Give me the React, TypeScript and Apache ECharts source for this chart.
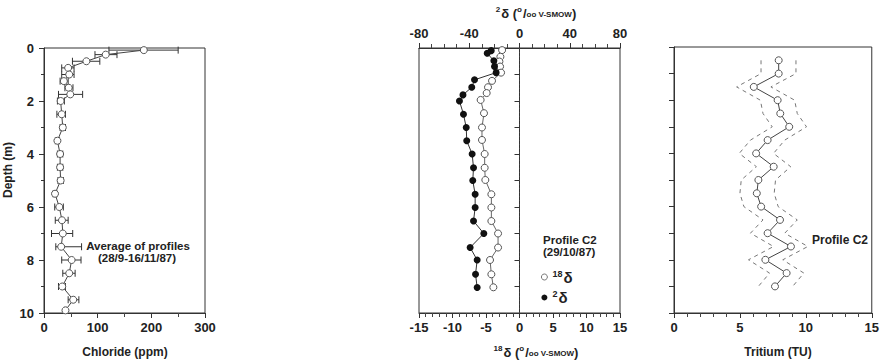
import React, { useEffect, useRef } from 'react';
import * as echarts from 'echarts';

// Left panel: chloride profile (average of profiles)
const clDepth = [0.08, 0.25, 0.5, 0.75, 1.0, 1.25, 1.5, 1.75, 2.0, 2.5, 3.0, 3.5, 4.0, 4.5, 5.0, 5.5, 6.0, 6.5, 7.0, 7.5, 8.0, 8.5, 9.0, 9.5, 9.9];
const clValue = [186, 115, 79, 45, 47, 37, 46, 49, 31, 33, 35, 25, 30, 30, 31, 20.5, 28.5, 33.5, 35, 32, 51.5, 47, 34, 54.5, 40];
const clLow = [121, 95, 53, 33, 33, 30, 39, 27, 25, 24, 30, 21, 25, 25, 26, 17, 20, 21, 14, 22, 33, 35, 27, 45, 38];
const clHigh = [250, 136, 104, 56, 56, 45, 54, 72, 38, 40, 40, 29, 35, 35, 36, 24, 36, 45, 53.5, 70, 69, 58, 40, 65, 42];

// Middle panel: stable isotopes, profile C2
const o18Depth = [0.08, 0.33, 0.51, 0.7, 0.93, 1.24, 1.48, 1.7, 1.96, 2.46, 3.0, 3.47, 4.0, 4.52, 4.98, 5.52, 6.02, 6.53, 7.0, 7.53, 8.0, 8.54, 9.03];
const o18Value = [-2.6, -2.85, -3.0, -2.9, -2.75, -4.1, -4.7, -4.9, -5.8, -5.3, -5.6, -5.6, -5.2, -5.2, -5.1, -4.2, -4.2, -4.2, -3.2, -3.2, -4.4, -4.2, -3.9];
const h2Depth = [0.1, 0.2, 0.48, 0.7, 0.93, 1.2, 1.48, 1.77, 2.0, 2.5, 3.0, 3.5, 4.0, 4.52, 5.0, 5.52, 6.02, 6.53, 7.0, 7.53, 8.0, 8.54, 9.04];
const h2Value = [-22.5, -25.7, -20.4, -19.9, -18.6, -35.8, -38, -45, -47.8, -44.6, -42.4, -42, -37.7, -36.6, -37.2, -35.3, -35.3, -36.6, -28.4, -39.3, -33.7, -35, -33.7];

// Right panel: tritium, profile C2
const trDepth = [0.5, 1.0, 1.5, 2.0, 2.5, 3.0, 3.5, 4.0, 4.5, 5.0, 5.5, 6.0, 6.5, 7.0, 7.5, 8.0, 8.5, 9.0];
const trValue = [7.94, 7.94, 6.05, 7.86, 8.06, 8.74, 7.1, 6.23, 7.56, 6.4, 6.28, 6.61, 8.04, 7.1, 8.87, 6.93, 8.54, 7.66];
const trLow = [6.6, 6.6, 4.75, 6.55, 6.75, 7.45, 5.8, 4.95, 6.25, 5.1, 5.0, 5.3, 6.75, 5.8, 7.55, 5.65, 7.25, 6.4];
const trHigh = [9.25, 9.25, 7.35, 9.15, 9.35, 10.05, 8.4, 7.55, 8.85, 7.7, 7.6, 7.9, 9.35, 8.4, 10.15, 8.25, 9.85, 9.0];

const FONT = 'Liberation Sans';
const INK = '#222';

const labelStyle = { fontFamily: FONT, fontWeight: 'bold' as const, fontSize: 13, color: INK };
const openCircle = { color: '#fff', borderColor: '#555', borderWidth: 1 };

function App() {
  const ref = useRef<HTMLDivElement>(null);

  useEffect(() => {
    const chart = echarts.init(ref.current!, null, { renderer: 'svg' });

    const gridBase = { show: true, borderColor: '#333', borderWidth: 1, backgroundColor: 'transparent', containLabel: false };

    const depthAxis = (gridIndex: number, showLabels: boolean) => ({
      type: 'value',
      gridIndex,
      inverse: true,
      min: 0,
      max: 10,
      interval: showLabels ? 2 : 1,
      axisLine: { show: true, lineStyle: { color: '#333', width: 1 } },
      axisTick: { show: true, length: 5, lineStyle: { color: '#333' } },
      minorTick: { show: showLabels, splitNumber: 2, length: 3, lineStyle: { color: '#333' } },
      axisLabel: { show: showLabels, margin: 10, ...labelStyle },
      splitLine: { show: false },
    });

    const xAx = (gridIndex: number, min: number, max: number, interval: number, minorSplit: number, position: 'top' | 'bottom') => ({
      type: 'value',
      gridIndex,
      position,
      min,
      max,
      interval,
      axisLine: { show: true, onZero: false, lineStyle: { color: '#333', width: 1 } },
      axisTick: { show: true, length: 5, lineStyle: { color: '#333' } },
      minorTick: { show: true, splitNumber: minorSplit, length: 4, lineStyle: { color: '#444' } },
      axisLabel: { show: true, margin: 8, ...labelStyle },
      splitLine: { show: false },
    });

    const errData = clDepth.map((d, i) => [clLow[i], clHigh[i], d]);

    const supRich = {
      sup: { fontFamily: FONT, fontWeight: 'bold', fontSize: 9, color: INK, padding: [0, 1, 7, 0] },
      d: { fontFamily: FONT, fontWeight: 'bold', fontSize: 15, color: INK },
    };

    const option: any = {
      animation: false,
      backgroundColor: '#fff',
      grid: [
        { ...gridBase, left: 44, top: 48, width: 161, height: 265 },
        { ...gridBase, left: 419, top: 48, width: 201, height: 265 },
        { ...gridBase, left: 674, top: 47, width: 199, height: 266 },
      ],
      xAxis: [
        xAx(0, 0, 300, 100, 2, 'bottom'),
        xAx(1, -15, 15, 5, 5, 'bottom'),
        xAx(1, -80, 80, 40, 4, 'top'),
        xAx(2, 0, 15, 5, 5, 'bottom'),
      ],
      yAxis: [depthAxis(0, true), depthAxis(1, false), depthAxis(2, false)],
      legend: {
        orient: 'vertical',
        left: 541,
        top: 269,
        itemWidth: 6,
        itemHeight: 6,
        itemGap: 5,
        padding: 0,
        icon: 'circle',
        data: [
          { name: '18δ', itemStyle: { color: '#fff', borderColor: '#555', borderWidth: 0.8 } },
          { name: '2δ' },
        ],
        formatter: (name: string) => (name === '18δ' ? '{sup|18}{d|δ}' : '{sup|2}{d|δ}'),
        textStyle: { color: INK, rich: supRich },
      },
      series: [
        {
          name: 'Chloride error',
          type: 'custom',
          xAxisIndex: 0,
          yAxisIndex: 0,
          encode: { x: [0, 1], y: 2 },
          data: errData,
          z: 2,
          renderItem: (params: any, api: any) => {
            const lo = api.coord([api.value(0), api.value(2)]);
            const hi = api.coord([api.value(1), api.value(2)]);
            const h = 3.5;
            const st = { stroke: '#333', lineWidth: 1 };
            return {
              type: 'group',
              children: [
                { type: 'line', shape: { x1: lo[0], y1: lo[1], x2: hi[0], y2: hi[1] }, style: st },
                { type: 'line', shape: { x1: lo[0], y1: lo[1] - h, x2: lo[0], y2: lo[1] + h }, style: st },
                { type: 'line', shape: { x1: hi[0], y1: hi[1] - h, x2: hi[0], y2: hi[1] + h }, style: st },
              ],
            };
          },
        },
        {
          name: 'Chloride',
          type: 'line',
          xAxisIndex: 0,
          yAxisIndex: 0,
          data: clDepth.map((d, i) => [clValue[i], d]),
          symbol: 'circle',
          symbolSize: 7,
          itemStyle: openCircle,
          lineStyle: { color: '#444', width: 1 },
          z: 3,
        },
        {
          name: '18δ',
          type: 'line',
          xAxisIndex: 1,
          yAxisIndex: 1,
          data: o18Depth.map((d, i) => [o18Value[i], d]),
          symbol: 'circle',
          symbolSize: 7,
          itemStyle: openCircle,
          lineStyle: { color: '#666', width: 1 },
          markLine: {
            silent: true,
            symbol: 'none',
            label: { show: false },
            lineStyle: { type: [1, 3], color: '#444', width: 1 },
            data: [{ xAxis: 0 }],
          },
          z: 3,
        },
        {
          name: '2δ',
          type: 'line',
          xAxisIndex: 2,
          yAxisIndex: 1,
          data: h2Depth.map((d, i) => [h2Value[i], d]),
          symbol: 'circle',
          symbolSize: 7,
          itemStyle: { color: '#111' },
          lineStyle: { color: '#333', width: 1 },
          z: 3,
        },
        {
          name: 'Tritium low',
          type: 'line',
          xAxisIndex: 3,
          yAxisIndex: 2,
          data: trDepth.map((d, i) => [trLow[i], d]),
          symbol: 'none',
          lineStyle: { color: '#777', width: 1, type: [4, 4] },
          z: 2,
        },
        {
          name: 'Tritium high',
          type: 'line',
          xAxisIndex: 3,
          yAxisIndex: 2,
          data: trDepth.map((d, i) => [trHigh[i], d]),
          symbol: 'none',
          lineStyle: { color: '#777', width: 1, type: [4, 4] },
          z: 2,
        },
        {
          name: 'Tritium',
          type: 'line',
          xAxisIndex: 3,
          yAxisIndex: 2,
          data: trDepth.map((d, i) => [trValue[i], d]),
          symbol: 'circle',
          symbolSize: 7,
          itemStyle: openCircle,
          lineStyle: { color: '#444', width: 1 },
          z: 3,
        },
      ],
      graphic: [
        {
          type: 'text', x: 8, y: 170, rotation: Math.PI / 2,
          style: { text: 'Depth (m)', fontFamily: FONT, fontWeight: 'bold', fontSize: 12, fill: INK, align: 'center', verticalAlign: 'middle' },
        },
        {
          type: 'text', x: 125, y: 352,
          style: { text: 'Chloride (ppm)', fontFamily: FONT, fontWeight: 'bold', fontSize: 12, fill: INK, align: 'center', verticalAlign: 'middle' },
        },
        {
          type: 'text', x: 138, y: 246,
          style: { text: 'Average of profiles', fontFamily: FONT, fontWeight: 'bold', fontSize: 11.5, fill: INK, align: 'center', verticalAlign: 'middle' },
        },
        {
          type: 'text', x: 137, y: 258,
          style: { text: '(28/9-16/11/87)', fontFamily: FONT, fontWeight: 'bold', fontSize: 11.5, fill: INK, align: 'center', verticalAlign: 'middle' },
        },
        {
          type: 'text', x: 543, y: 234,
          style: { text: 'Profile C2', fontFamily: FONT, fontWeight: 'bold', fontSize: 11.5, fill: INK, align: 'left', verticalAlign: 'top' },
        },
        {
          type: 'text', x: 543, y: 246,
          style: { text: '(29/10/87)', fontFamily: FONT, fontWeight: 'bold', fontSize: 11.5, fill: INK, align: 'left', verticalAlign: 'top' },
        },
        {
          type: 'text', x: 812, y: 240,
          style: { text: 'Profile C2', fontFamily: FONT, fontWeight: 'bold', fontSize: 12, fill: INK, align: 'left', verticalAlign: 'middle' },
        },
        {
          type: 'text', x: 778, y: 352,
          style: { text: 'Tritium (TU)', fontFamily: FONT, fontWeight: 'bold', fontSize: 12, fill: INK, align: 'center', verticalAlign: 'middle' },
        },
        {
          type: 'text', x: 536, y: 13,
          style: {
            text: '{sup|2}{t|δ (}{sup|o}{t|/}{s|oo V-SMOW}{t|)}',
            align: 'center', verticalAlign: 'middle',
            rich: {
              t: { fontFamily: FONT, fontWeight: 'bold', fontSize: 13, fill: INK },
              sup: { fontFamily: FONT, fontWeight: 'bold', fontSize: 8, fill: INK, padding: [0, 1, 8, 0] },
              s: { fontFamily: FONT, fontWeight: 'bold', fontSize: 8, fill: INK, padding: [3, 0, 0, 0] },
            },
          },
        },
        {
          type: 'text', x: 536, y: 352,
          style: {
            text: '{sup|18}{t|δ (}{sup|o}{t|/}{s|oo V-SMOW}{t|)}',
            align: 'center', verticalAlign: 'middle',
            rich: {
              t: { fontFamily: FONT, fontWeight: 'bold', fontSize: 13, fill: INK },
              sup: { fontFamily: FONT, fontWeight: 'bold', fontSize: 8, fill: INK, padding: [0, 1, 8, 0] },
              s: { fontFamily: FONT, fontWeight: 'bold', fontSize: 8, fill: INK, padding: [3, 0, 0, 0] },
            },
          },
        },
      ],
    };

    chart.setOption(option);
    return () => chart.dispose();
  }, []);

  return (
    <div
      ref={ref}
      style={{ position: 'absolute', left: 0, top: 0, width: 882, height: 360, background: '#fff' }}
    />
  );
}

export default App;
